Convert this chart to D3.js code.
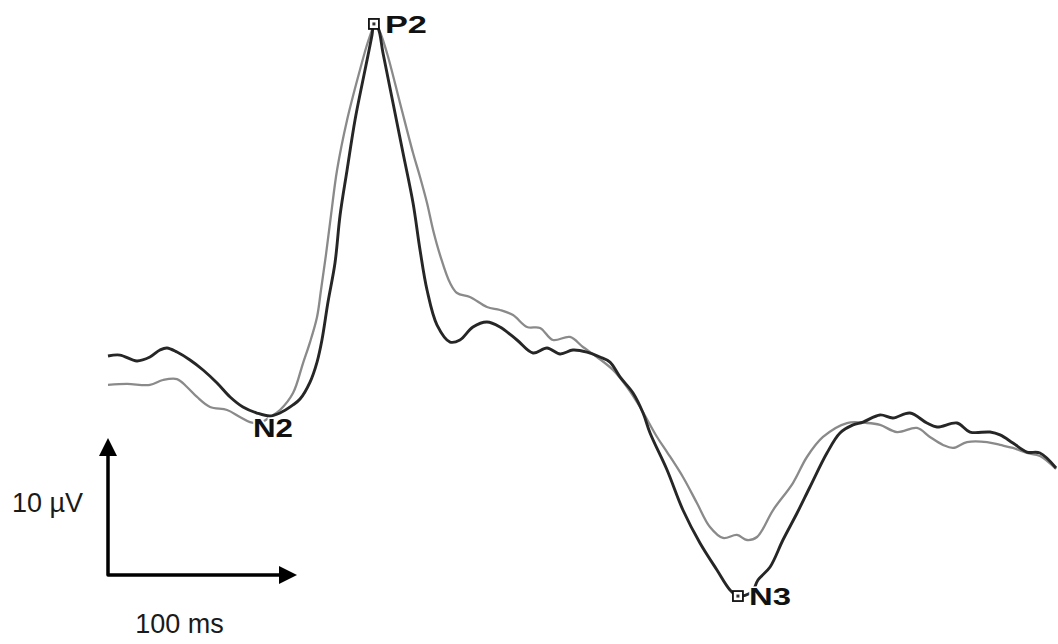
<!DOCTYPE html>
<html>
<head>
<meta charset="utf-8">
<script src="https://cdn.jsdelivr.net/npm/d3@7/dist/d3.min.js"></script>
<style>
  html, body { margin: 0; padding: 0; background: #fff; }
  svg { display: block; }
</style>
</head>
<body>
<svg id="chart" width="1058" height="644"></svg>
<script>
// Grand-average ERP waveforms: time in ms, amplitude in µV (positive up)
const darkTime = [0, 6.3, 15.3, 22.2, 27.5, 31.2, 36.5, 43.4, 50.3, 57.7, 64.6, 71.4, 78.8, 85.7, 91.0, 97.9,
  101.6, 106.9, 110.6, 113.2, 116.4, 120.1, 122.8, 126.5, 130.7, 134.9, 137.6, 139.7, 140.7, 142.9, 145.5,
  150.8, 156.1, 161.4, 165.1, 168.8, 174.1, 181.0, 186.2, 193.1, 200.5, 207.4, 216.4, 224.9, 232.3, 239.2,
  246.0, 253.4, 260.3, 265.6, 270.9, 277.8, 283.1, 286.8, 295.8, 304.2, 313.2, 322.2, 329.1, 333.3, 340.7,
  343.9, 350.3, 357.1, 364.6, 371.4, 380.4, 387.3, 394.2, 399.5, 408.5, 415.3, 424.3, 433.3, 438.6, 449.2,
  456.1, 466.7, 472.0, 478.8, 486.2, 493.1, 501.6];
const darkAmp = [1.75, 1.82, 1.39, 1.68, 2.19, 2.34, 2.04, 1.46, 0.73, -0.22, -1.24, -1.97, -2.41, -2.63, -2.41, -1.82,
  -1.39, -0.15, 1.31, 2.92, 5.69, 8.54, 12.04, 15.33, 18.98, 21.90, 23.72, 25.18, 25.99, 25.69, 23.87,
  20.22, 16.57, 12.92, 9.49, 6.57, 4.01, 2.77, 2.92, 3.87, 4.23, 3.87, 2.92, 1.97, 2.34, 1.90,
  2.19, 2.04, 1.68, 1.31, 0.22, -0.95, -2.41, -3.87, -6.57, -9.49, -11.90, -13.87, -15.33, -15.77, -15.47,
  -14.60, -13.65, -11.68, -9.71, -7.81, -5.33, -3.87, -3.28, -3.07, -2.55, -2.77, -2.41, -3.14, -3.43, -3.14,
  -3.80, -3.80, -4.01, -4.60, -5.26, -5.33, -6.42];

const grayTime = [0, 10.1, 22.2, 29.1, 36.5, 41.8, 47.1, 54.0, 63.0, 69.8, 75.1, 80.4, 85.7, 91.0, 97.9,
  103.2, 106.9, 110.6, 112.7, 115.3, 118.0, 121.2, 126.5, 133.3, 137.0, 139.7, 140.7, 143.4, 147.6, 154.5,
  161.4, 165.1, 168.8, 172.0, 175.7, 181.0, 184.7, 191.5, 200.5, 207.4, 214.3, 221.7, 228.6, 235.4, 244.4,
  251.3, 258.7, 267.2, 274.6, 281.5, 290.5, 295.8, 304.2, 311.6, 318.5, 325.4, 332.8, 338.1, 343.4, 351.9,
  362.4, 369.8, 378.3, 391.0, 401.6, 408.5, 417.5, 428.0, 434.9, 441.8, 447.1, 454.5, 465.1, 472.0, 478.8,
  486.2, 493.1, 501.6];
const grayAmp = [-0.36, -0.29, -0.36, 0.00, 0.07, -0.51, -1.24, -1.97, -2.19, -2.70, -3.07, -3.14, -2.70, -2.19, -0.95,
  1.24, 2.77, 4.60, 6.57, 9.12, 12.04, 15.33, 18.98, 22.63, 24.45, 25.55, 25.99, 25.55, 23.87, 20.22,
  16.57, 14.82, 12.92, 10.95, 9.12, 7.08, 6.35, 6.06, 5.33, 5.11, 4.74, 3.87, 3.80, 2.92, 3.14,
  2.41, 1.68, 0.73, -0.51, -1.97, -4.16, -5.26, -7.08, -8.98, -10.73, -11.53, -11.31, -11.68, -11.46, -9.49,
  -7.52, -5.62, -4.16, -3.14, -3.14, -3.28, -3.80, -3.50, -4.16, -4.74, -4.96, -4.53, -4.53, -4.74, -4.96,
  -5.33, -5.55, -6.50];

// Component peaks
const peakLabels = ["P2", "N2", "N3"];
const peakTime = [140.7, 85.7, 333.3];
const peakAmp = [25.99, -2.63, -15.77];
const peakMarked = [true, false, true];

// Calibration bar
const barTimeSpan = 100;   // ms
const barAmpSpan = 10;     // µV
const barOrigin = [0, -14.23];
const barTimeLabel = "100 ms";
const barAmpLabel = "10 µV";

const svg = d3.select("#chart");

const x = d3.scaleLinear().domain([0, 500]).range([108, 1053]);
const y = d3.scaleLinear().domain([0, 10]).range([380, 243]);

const line = d3.line()
  .x(d => x(d[0]))
  .y(d => y(d[1]))
  .curve(d3.curveCatmullRom.alpha(0.5));

const gray = d3.zip(grayTime, grayAmp);
const dark = d3.zip(darkTime, darkAmp);

svg.append("path")
  .datum(gray)
  .attr("d", line)
  .attr("fill", "none")
  .attr("stroke", "#8a8a8a")
  .attr("stroke-width", 2.3)
  .attr("stroke-linejoin", "round");

svg.append("path")
  .datum(dark)
  .attr("d", line)
  .attr("fill", "none")
  .attr("stroke", "#262626")
  .attr("stroke-width", 2.9)
  .attr("stroke-linejoin", "round");

// Peak markers and labels
const peaks = peakLabels.map((label, i) => ({
  label, t: peakTime[i], v: peakAmp[i], marked: peakMarked[i]
}));

const pg = svg.append("g");

peaks.forEach(p => {
  const px = x(p.t), py = y(p.v);
  if (p.marked) {
    pg.append("rect")
      .attr("x", px - 5).attr("y", py - 5)
      .attr("width", 10).attr("height", 10)
      .attr("fill", "#fff")
      .attr("stroke", "#111")
      .attr("stroke-width", 1.8);
    pg.append("rect")
      .attr("x", px - 1.5).attr("y", py - 1.5)
      .attr("width", 3).attr("height", 3)
      .attr("fill", "#333");
    pg.append("text")
      .attr("x", px + 11).attr("y", py + 9)
      .attr("font-family", "Liberation Sans, Arial, sans-serif")
      .attr("font-weight", "bold")
      .attr("font-size", 24)
      .attr("textLength", 42)
      .attr("lengthAdjust", "spacingAndGlyphs")
      .attr("fill", "#111")
      .attr("stroke", "#fff").attr("stroke-width", 3)
      .attr("paint-order", "stroke")
      .text(p.label);
  } else {
    pg.append("text")
      .attr("x", px - 17).attr("y", py + 21)
      .attr("font-family", "Liberation Sans, Arial, sans-serif")
      .attr("font-weight", "bold")
      .attr("font-size", 25)
      .attr("textLength", 40)
      .attr("lengthAdjust", "spacingAndGlyphs")
      .attr("fill", "#111")
      .attr("stroke", "#fff").attr("stroke-width", 3)
      .attr("paint-order", "stroke")
      .text(p.label);
  }
});

// Calibration bar with arrowheads
const ox = x(barOrigin[0]), oy = y(barOrigin[1]);
const tx = x(barOrigin[0] + barTimeSpan), ty = y(barOrigin[1] + barAmpSpan);
const head = 18, half = 9;
const bar = svg.append("g");

bar.append("path")
  .attr("d", `M${tx - head + 2},${oy} L${ox},${oy} L${ox},${ty + head - 2}`)
  .attr("fill", "none")
  .attr("stroke", "#000")
  .attr("stroke-width", 3.5)
  .attr("stroke-linejoin", "round");

bar.append("path")
  .attr("d", `M${tx},${oy} L${tx - head},${oy - half} L${tx - head},${oy + half} Z`)
  .attr("fill", "#000");

bar.append("path")
  .attr("d", `M${ox},${ty} L${ox - half},${ty + head} L${ox + half},${ty + head} Z`)
  .attr("fill", "#000");

bar.append("text")
  .attr("x", 12).attr("y", (oy + ty) / 2 + 6)
  .attr("font-family", "Liberation Sans, Arial, sans-serif")
  .attr("font-size", 27)
  .attr("fill", "#1a1a1a")
  .text(barAmpLabel);

bar.append("text")
  .attr("x", (ox + tx) / 2 - 23).attr("y", oy + 58)
  .attr("font-family", "Liberation Sans, Arial, sans-serif")
  .attr("font-size", 27)
  .attr("text-anchor", "middle")
  .attr("fill", "#1a1a1a")
  .text(barTimeLabel);
</script>
</body>
</html>
